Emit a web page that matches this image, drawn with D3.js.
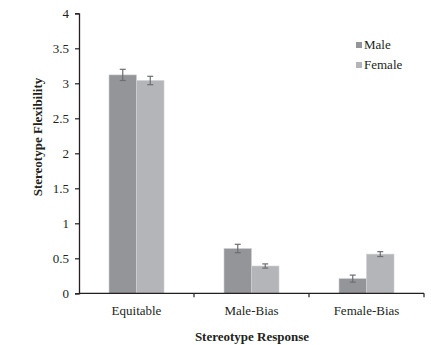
<!DOCTYPE html>
<html>
<head>
<meta charset="utf-8">
<script src="https://cdn.jsdelivr.net/npm/d3@7"></script>
<style>
  html, body { margin: 0; padding: 0; background: #fff; }
</style>
</head>
<body>
<svg id="chart" width="431" height="345"></svg>
<script>
// Stereotype flexibility by response type and gender
const categories = ["Equitable", "Male-Bias", "Female-Bias"];
const seriesNames = ["Male", "Female"];
const maleValues = [3.12, 0.64, 0.21];
const femaleValues = [3.04, 0.39, 0.56];
const maleErrors = [0.08, 0.06, 0.05];
const femaleErrors = [0.06, 0.03, 0.035];
const yTicks = [0, 0.5, 1, 1.5, 2, 2.5, 3, 3.5, 4];
const seriesColors = ["#939598", "#b4b5b8"];

const FONT = "'Liberation Serif', 'DejaVu Serif', 'Times New Roman', serif";
const TEXT_COLOR = "#231f20";

const svg = d3.select("#chart");
const margin = { left: 79, right: 7, top: 13.3, bottom: 51.7 };
const W = 431, H = 345;

const x = d3.scaleBand().domain(categories).range([margin.left, W - margin.right]).padding(0);
const x1 = d3.scaleBand().domain(seriesNames).range([0, 55]);
const y = d3.scaleLinear().domain([0, 4]).range([H - margin.bottom, margin.top]);

const rows = categories.map((c, i) => ({
  cat: c,
  vals: [
    { s: "Male", v: maleValues[i], e: maleErrors[i], color: seriesColors[0] },
    { s: "Female", v: femaleValues[i], e: femaleErrors[i], color: seriesColors[1] }
  ]
}));

// bars
const g = svg.append("g");
const groups = g.selectAll("g.grp").data(rows).enter().append("g")
  .attr("transform", d => `translate(${x(d.cat) + (x.bandwidth() - 55) / 2},0)`);

groups.selectAll("rect").data(d => d.vals).enter().append("rect")
  .attr("x", d => x1(d.s))
  .attr("width", x1.bandwidth())
  .attr("y", d => y(d.v))
  .attr("height", d => y(0) - y(d.v))
  .attr("fill", d => d.color)
  .attr("stroke", "#d0d1d3")
  .attr("stroke-width", 0.6);

// error bars
const eb = groups.selectAll("g.err").data(d => d.vals).enter().append("g")
  .attr("stroke", "#6d6e71").attr("stroke-width", 1.2);
eb.append("line")
  .attr("x1", d => x1(d.s) + x1.bandwidth() / 2)
  .attr("x2", d => x1(d.s) + x1.bandwidth() / 2)
  .attr("y1", d => y(d.v + d.e)).attr("y2", d => y(d.v - d.e));
eb.append("line")
  .attr("x1", d => x1(d.s) + x1.bandwidth() / 2 - 3)
  .attr("x2", d => x1(d.s) + x1.bandwidth() / 2 + 3)
  .attr("y1", d => y(d.v + d.e)).attr("y2", d => y(d.v + d.e));
eb.append("line")
  .attr("x1", d => x1(d.s) + x1.bandwidth() / 2 - 3)
  .attr("x2", d => x1(d.s) + x1.bandwidth() / 2 + 3)
  .attr("y1", d => y(d.v - d.e)).attr("y2", d => y(d.v - d.e));

// y axis
const yAxis = svg.append("g")
  .attr("transform", `translate(${margin.left},0)`)
  .call(d3.axisLeft(y).tickValues(yTicks).tickSize(4).tickPadding(6).tickFormat(d3.format("")));
yAxis.attr("font-family", FONT);
yAxis.select(".domain").attr("stroke", TEXT_COLOR).attr("stroke-width", 1.3);
yAxis.selectAll(".tick line").attr("stroke", TEXT_COLOR).attr("stroke-width", 1.2);
yAxis.selectAll("text").attr("font-size", 13).attr("font-family", FONT).attr("fill", TEXT_COLOR);

// x axis with ticks on category boundaries
const xAxisG = svg.append("g").attr("transform", `translate(0,${y(0)})`);
xAxisG.append("line")
  .attr("x1", margin.left).attr("x2", W - margin.right)
  .attr("stroke", TEXT_COLOR).attr("stroke-width", 1.3);
const bounds = categories.map(c => x(c) + x.bandwidth());
xAxisG.selectAll("line.tk").data(bounds).enter().append("line")
  .attr("x1", d => d).attr("x2", d => d).attr("y1", 0).attr("y2", 4)
  .attr("stroke", TEXT_COLOR).attr("stroke-width", 1.2);
xAxisG.selectAll("text").data(categories).enter().append("text")
  .attr("x", d => x(d) + x.bandwidth() / 2)
  .attr("y", 22)
  .attr("text-anchor", "middle")
  .attr("font-family", FONT).attr("fill", TEXT_COLOR)
  .attr("font-size", 13)
  .text(d => d);

// axis titles
svg.append("text")
  .attr("x", 252).attr("y", 341)
  .attr("text-anchor", "middle")
  .attr("font-family", FONT).attr("fill", TEXT_COLOR)
  .attr("font-size", 13).attr("font-weight", "bold")
  .text("Stereotype Response");
svg.append("text")
  .attr("transform", "translate(42,137) rotate(-90)")
  .attr("text-anchor", "middle")
  .attr("font-family", FONT).attr("fill", TEXT_COLOR)
  .attr("font-size", 13).attr("font-weight", "bold")
  .text("Stereotype Flexibility");

// legend
const legend = svg.append("g").attr("transform", "translate(356,42)");
const li = legend.selectAll("g").data(seriesNames).enter().append("g")
  .attr("transform", (d, i) => `translate(0,${i * 20})`);
li.append("rect").attr("width", 6).attr("height", 6).attr("fill", (d, i) => seriesColors[i]);
li.append("text").attr("x", 8).attr("y", 6.5)
  .attr("font-family", FONT).attr("fill", TEXT_COLOR)
  .attr("font-size", 13).text(d => d);
</script>
</body>
</html>
